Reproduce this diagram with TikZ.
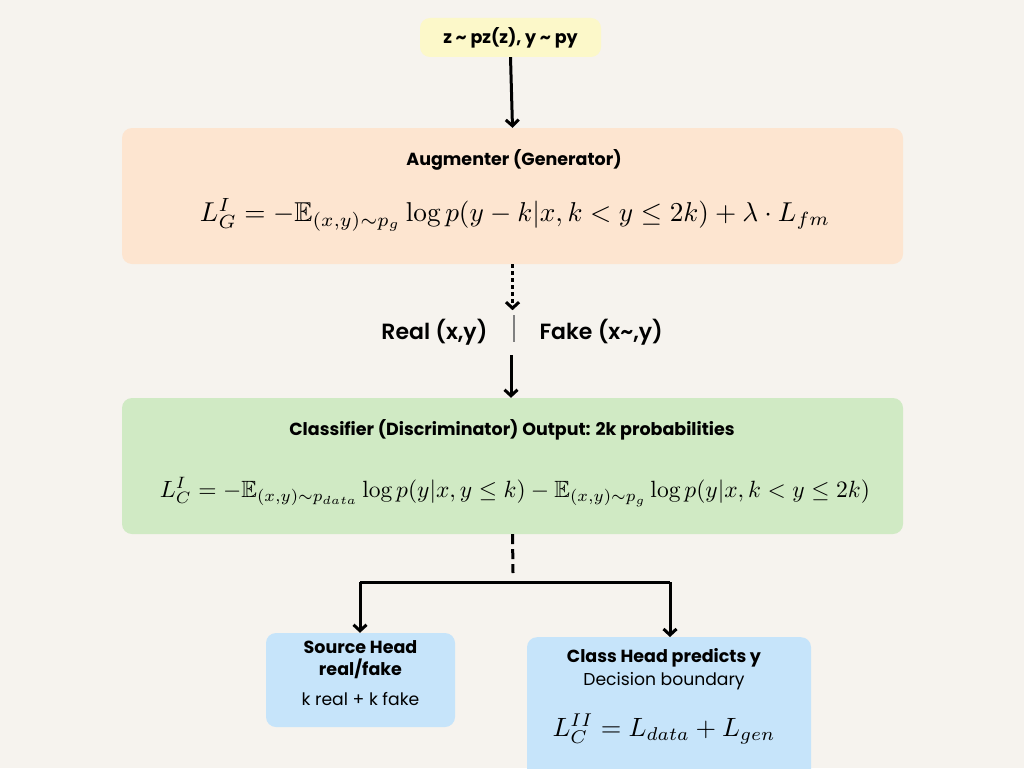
\documentclass[tikz,border=0pt]{standalone}
\usepackage{amsmath,amssymb,graphicx}
\usepackage{fontspec}
\setsansfont{Poppins}
\newfontfamily\semifont{Poppins SemiBold}
\usetikzlibrary{arrows.meta,positioning}

\definecolor{bgcol}{HTML}{F6F3EE}
\definecolor{noisecol}{HTML}{FCF8C9}
\definecolor{gencol}{HTML}{FDE5D0}
\definecolor{discol}{HTML}{D0EAC4}
\definecolor{headcol}{HTML}{C6E4FA}

\tikzset{
    panel/.style={rounded corners=10pt, inner sep=0pt, align=center},
    flow/.style={line width=3pt, -{Straight Barb[length=6pt,width=13pt,line width=3pt]}},
    ttl/.style={font=\sffamily\bfseries\fontsize{17.5}{21}\selectfont},
    txt/.style={font=\sffamily\fontsize{17.2}{21}\selectfont},
    pair/.style={font=\semifont\fontsize{22}{26}\selectfont},
}

\begin{document}
\begin{tikzpicture}[x=1pt,y=-1pt]

    \useasboundingbox (0,0) rectangle (1024,768);
    \fill[bgcol] (0,0) rectangle (1024,768);

    \node[panel, fill=noisecol, minimum width=181pt, minimum height=39pt, ttl] (noise) at (510.5,37.5) {z \char`~{} pz(z), y \char`~{} py};

    \node[panel, fill=gencol, minimum width=781pt, minimum height=136pt] (gen) at (512.5,196) {};
    \node[ttl] (gentitle) at (514,160) {Augmenter (Generator)};
    \node[inner sep=0pt] (geneq) at (515,215) {\resizebox{630pt}{!}{$L_G^{I} = -\mathbb{E}_{(x,y)\sim p_g}\log p(y-k|x,k<y\leq 2k)+\lambda\cdot L_{fm}$}};

    \node[pair, anchor=east] (real) at (491,332) {Real (x,y)};
    \node[pair, anchor=west] (fake) at (536,332) {Fake (x\char`~,y)};
    \coordinate (sepa) at (514,315);
    \coordinate (sepb) at (514,342);
    \draw[gray, line width=1.5pt] (sepa) -- (sepb);

    \node[panel, fill=discol, minimum width=781pt, minimum height=136pt] (dis) at (512.5,466) {};
    \node[ttl] (distitle) at (512,430) {Classifier (Discriminator) Output: 2k probabilities};
    \node[inner sep=0pt] (diseq) at (515,492) {\resizebox{710pt}{!}{$L_C^{I} = -\mathbb{E}_{(x,y)\sim p_{data}}\log p(y|x,y\leq k)-\mathbb{E}_{(x,y)\sim p_g}\log p(y|x,k<y\leq 2k)$}};

    \node[panel, fill=headcol, minimum width=189pt, minimum height=94pt] (srchead) at (360.5,680) {};
    \node[ttl] (srcname) at (360.5,647) {Source Head};
    \node[ttl] (srcfake) at (360.5,669) {real/fake};
    \node[txt] (srcnote) at (360.5,699) {k real + k fake};

    \node[panel, fill=headcol, minimum width=284pt, minimum height=150pt, anchor=north] (clshead) at (669,637) {};
    \node[ttl] (clsname) at (664,658) {Class Head predicts y};
    \node[txt] (clsnote) at (664,681) {Decision boundary};
    \node[inner sep=0pt] (clseq) at (664,729) {\resizebox{223pt}{!}{$L_C^{II} = L_{data}+L_{gen}$}};

    \coordinate (split) at (513,573);
    \coordinate (forkl) at (360,582);
    \coordinate (forkr) at (670,582);

    \draw[flow] (noise.south) -- (gen.north);
    \draw[flow, dash pattern=on 4pt off 3pt] (gen.south) -- ++(0,46);
    \draw[flow] (511,355) -- (dis.north -| 511,0);
    \draw[line width=3pt, dash pattern=on 10pt off 5pt] (dis.south) -- (split);
    \draw[line width=3pt] (forkl) -- (forkr);
    \draw[flow] (forkl) -- (forkl |- srchead.north);
    \draw[flow] (forkr) -- (forkr |- clshead.north);

\end{tikzpicture}
\end{document}
